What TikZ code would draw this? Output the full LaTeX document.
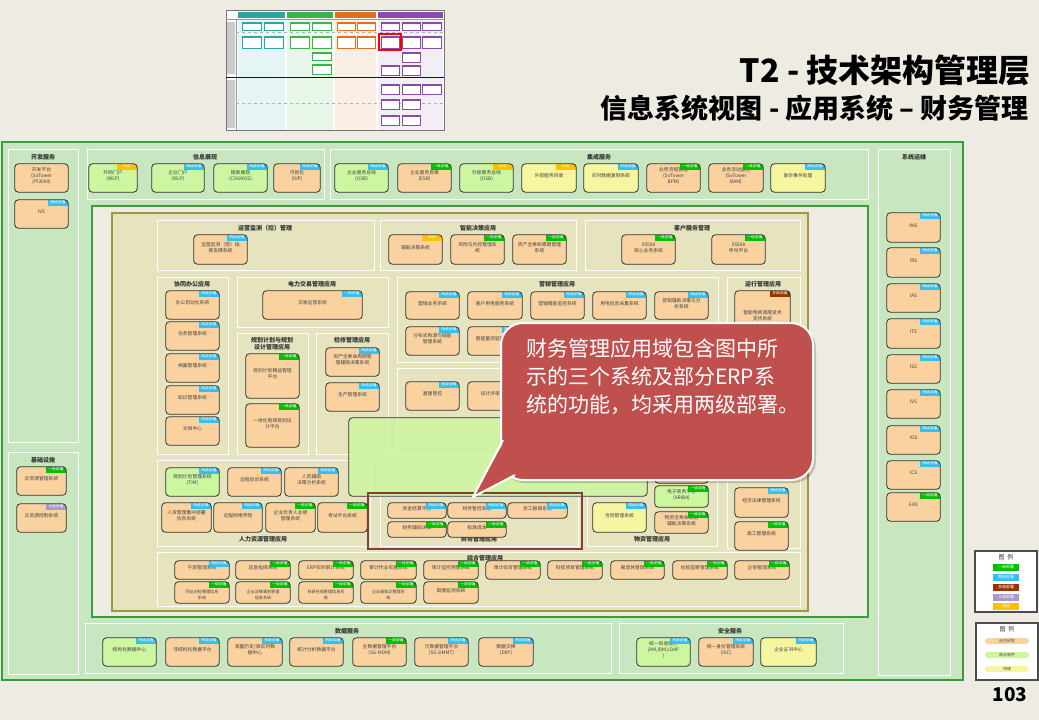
\documentclass[tikz,border=0pt]{standalone}
\usepackage{fontspec}
\setmainfont{Noto Sans CJK SC}
\usetikzlibrary{fit}
\definecolor{bg}{HTML}{EEECE2}
\definecolor{lgreen}{HTML}{C8E6BF}
\definecolor{fgreen}{HTML}{3C9B3C}
\definecolor{olivef}{HTML}{E6E4BF}
\definecolor{olived}{HTML}{9B9840}
\definecolor{bor}{HTML}{F9D2A0}
\definecolor{bgr}{HTML}{CCF6A0}
\definecolor{bye}{HTML}{F6F6A0}
\definecolor{tgr}{HTML}{00C000}
\definecolor{tcy}{HTML}{33C0F0}
\definecolor{tbr}{HTML}{993300}
\definecolor{tpu}{HTML}{A898CC}
\definecolor{tye}{HTML}{FFC000}
\definecolor{callred}{HTML}{C0504D}
\definecolor{frred}{HTML}{8B3A3A}
\definecolor{thteal}{HTML}{2BA6A0}
\definecolor{thgreen}{HTML}{3CB44B}
\definecolor{thorange}{HTML}{E07020}
\definecolor{thpurple}{HTML}{8A4AA8}

\newcommand\sysb[9]{%
  \node[sysbox, fill=#6, fit={(#2,#3) (#4,#5)}] (#1) {#9};
  \if\relax\detokenize{#7}\relax\else
  \begin{scope}
    \clip[rounded corners=3.5] (#1.south west) rectangle (#1.north east);
    \node[tagn, fill=#7] (#1t) at ([xshift=0.5pt,yshift=0.5pt]#1.north east) {#8};
  \end{scope}
  \fi
  \draw[boxline] (#1.south west) rectangle (#1.north east);
}
\newcommand\pnl[4]{\draw[panel] (#1,#2) rectangle (#3,#4);}
\newcommand\thb[5]{\draw[#5, line width=0.4, fill=white] (#1,#2) rectangle (#3,#4); \fill[#5] (#1,#2) rectangle (#3,#2+2);}
\newcommand\sm[1]{{\fontsize{4.1}{4.9}\selectfont #1}}

\begin{document}
\begin{tikzpicture}[x=1pt,y=-1pt,
  sysbox/.style={draw=none, rounded corners=3.5, inner sep=0pt, align=center,
     font=\fontsize{4.8}{6}\selectfont, text=black!75},
  boxline/.style={draw=black!80, line width=0.8pt, rounded corners=3.5},
  tagn/.style={anchor=north east, inner sep=0pt, minimum width=21pt, minimum height=6pt,
     font=\fontsize{3.8}{4}\selectfont, text=white},
  panel/.style={draw=white, line width=0.9pt},
  ptitle/.style={font=\fontsize{6}{7}\selectfont\bfseries, text=black!80, align=center},
  legtag/.style={inner sep=0pt, minimum width=26pt, minimum height=7pt,
     font=\fontsize{4}{5}\selectfont, text=white},
  legpill/.style={inner sep=0pt, minimum width=44pt, minimum height=6pt, rounded corners=3,
     font=\fontsize{4}{5}\selectfont, text=black!70}]
\useasboundingbox (0,0) rectangle (1039,720);
\fill[bg] (0,0) rectangle (1039,720);

% ---------------- thumbnail ----------------
\draw[black!55, fill=white, line width=0.6] (226,10) rectangle (444,130);
\fill[thteal!12] (238,19) rectangle (285,130);
\fill[thgreen!12] (287,19) rectangle (333,130);
\fill[thorange!12] (335,19) rectangle (376,130);
\fill[thpurple!10] (378,19) rectangle (443,130);
\fill[thteal] (238,12) rectangle (285,18);
\fill[thgreen] (287,12) rectangle (333,18);
\fill[thorange] (335,12) rectangle (376,18);
\fill[thpurple] (378,12) rectangle (443,18);
\draw[black!40, line width=0.4] (236,19) -- (236,130) (226,19) -- (444,19);
\draw[blue!60!black, line width=0.8] (226,77) -- (444,77);
\draw[black!30, dashed, line width=0.3] (236,32) -- (444,32) (236,103) -- (444,103);
\fill[black!20] (227,22) rectangle (235,74) (227,80) rectangle (235,128);
\thb{242}{22}{261}{30}{thteal}
\thb{264}{22}{283}{30}{thteal}
\thb{242}{36}{261}{48}{thteal}
\thb{264}{36}{283}{48}{thteal}
\thb{290}{22}{309}{30}{thgreen}
\thb{312}{22}{331}{30}{thgreen}
\thb{290}{36}{309}{48}{thgreen}
\thb{312}{36}{331}{48}{thgreen}
\thb{312}{52}{331}{60}{thgreen}
\thb{312}{64}{331}{74}{thgreen}
\thb{337}{22}{355}{30}{thorange}
\thb{357}{22}{375}{30}{thorange}
\thb{337}{36}{355}{48}{thorange}
\thb{357}{36}{375}{48}{thorange}
\thb{381}{22}{399}{30}{thpurple}
\thb{402}{22}{420}{30}{thpurple}
\thb{422}{22}{441}{30}{thpurple}
\thb{381}{36}{399}{48}{thpurple}
\thb{402}{36}{420}{48}{thpurple}
\thb{422}{36}{441}{48}{thpurple}
\thb{402}{52}{420}{62}{thpurple}
\thb{381}{65}{399}{75}{thpurple}
\thb{402}{65}{420}{75}{thpurple}
\thb{381}{84}{399}{94}{thpurple}
\thb{402}{84}{420}{94}{thpurple}
\thb{422}{84}{441}{94}{thpurple}
\thb{381}{99}{399}{109}{thpurple}
\thb{402}{99}{420}{109}{thpurple}
\thb{381}{115}{399}{125}{thpurple}
\thb{402}{115}{420}{125}{thpurple}
\draw[red, line width=1.6] (379,34) rectangle (401,50);

% ---------------- titles ----------------
\node[anchor=east, inner sep=0, font=\fontsize{32}{35}\selectfont\bfseries] (title) at (1031,70) {T2 - 技术架构管理层};
\node[anchor=east, inner sep=0, font=\fontsize{27}{30}\selectfont\bfseries] (subtitle) at (1029,108) {信息系统视图 - 应用系统 – 财务管理};
\node[inner sep=0, font=\fontsize{19}{22}\selectfont\bfseries] (pageno) at (1010,695) {103};

% ---------------- frames ----------------
\draw[fgreen, fill=lgreen, line width=1.2] (2,142) rectangle (963,680);
\pnl{8}{149}{78}{442}
\pnl{8}{452}{78}{674}
\pnl{87}{149}{324}{199}
\pnl{330}{149}{868}{199}
\pnl{878}{149}{950}{675}
\pnl{85}{623}{611}{673}
\pnl{619}{623}{843}{673}
\node[ptitle] (tdev) at (43,157) {开发服务};
\node[ptitle] (tinf) at (43,460) {基础设施};
\node[ptitle] (tinfo) at (205,157) {信息展现};
\node[ptitle] (tint) at (599,157) {集成服务};
\node[ptitle] (tops) at (914,157) {系统运维};
\node[ptitle] (tdata) at (347,631) {数据服务};
\node[ptitle] (tsec) at (730,631) {安全服务};

\draw[fgreen, fill=bg, line width=1.2] (92,206) rectangle (868,617);
\draw[olived, fill=olivef, line width=1.2] (112,213) rectangle (808,611);

\pnl{157}{220}{374}{270}
\pnl{380}{220}{576}{270}
\pnl{585}{220}{800}{270}
\pnl{157}{277}{228}{454}
\pnl{237}{277}{388}{327}
\pnl{237}{333}{308}{454}
\pnl{316}{333}{388}{454}
\pnl{397}{277}{718}{362}
\pnl{727}{277}{800}{455}
\pnl{397}{368}{718}{455}
\pnl{157}{460}{370}{546}
\pnl{587}{462}{717}{546}
\pnl{727}{462}{800}{548}
\pnl{380}{496}{578}{546}
\pnl{157}{552}{800}{606}
\node[ptitle] (t1) at (265,228) {运营监测（控）管理};
\node[ptitle] (t2) at (478,228) {智能决策应用};
\node[ptitle] (t3) at (692,228) {客户服务管理};
\node[ptitle] (t4) at (192,284) {协同办公应用};
\node[ptitle] (t5) at (312,284) {电力交易管理应用};
\node[ptitle] (t6) at (272,344) {规划计划与规划\\设计管理应用};
\node[ptitle] (t7) at (352,340) {检修管理应用};
\node[ptitle] (t8) at (557,284) {营销管理应用};
\node[ptitle] (t9) at (763,284) {运行管理应用};
\node[ptitle] (t10) at (263,539) {人力资源管理应用};
\node[ptitle] (t11) at (652,539) {物资管理应用};
\node[ptitle] (t12) at (479,539) {财务管理应用};
\node[ptitle] (t13) at (485,558) {综合管理应用};

% ---------------- boxes: top / side ----------------
\sysb{dv1}{15}{164}{68}{192}{bor}{}{}{开发平台\\(SoTower\\/PI3000)}
\sysb{dv2}{15}{200}{68}{228}{bor}{tcy}{两级部署}{IVS}
\sysb{in1}{17}{467}{66}{495}{bor}{tgr}{一级部署}{云资源管理系统}
\sysb{in2}{17}{504}{66}{532}{bor}{tpu}{三级部署}{云资源控制系统}

\sysb{ip1}{89}{164}{137}{192}{bgr}{tye}{待定}{外网门户\\(WLP)}
\sysb{ip2}{152}{164}{204}{192}{bgr}{tcy}{两级部署}{企业门户\\(WLP)}
\sysb{ip3}{214}{164}{267}{192}{bgr}{tcy}{两级部署}{报表展现\\(COGNOS)}
\sysb{ip4}{274}{164}{320}{192}{bor}{tcy}{两级部署}{可视化\\(IVP)}

\sysb{is1}{335}{164}{388}{192}{bgr}{tcy}{两级部署}{企业服务总线\\(OSB)}
\sysb{is2}{398}{164}{451}{192}{bor}{tgr}{一级部署}{企业服务目录\\(ESR)}
\sysb{is3}{460}{164}{513}{192}{bgr}{tye}{待定}{外部服务总线\\(OSB)}
\sysb{is4}{522}{164}{576}{192}{bye}{tye}{待定}{外部服务目录}
\sysb{is5}{584}{164}{638}{192}{bye}{tcy}{两级部署}{实时数据复制系统}
\sysb{is6}{647}{164}{700}{192}{bor}{tgr}{一级部署}{业务流程管理\\(SoTower\\BPM)}
\sysb{is7}{709}{164}{763}{192}{bor}{tgr}{一级部署}{业务活动监控\\(SoTower\\BAM)}
\sysb{is8}{771}{164}{825}{192}{bye}{tcy}{两级部署}{复杂事件处理}

\sysb{op1}{887}{213}{940}{242}{bor}{tcy}{两级部署}{IMS}
\sysb{op2}{887}{248}{940}{277}{bor}{tcy}{两级部署}{IRS}
\sysb{op3}{887}{284}{940}{312}{bor}{tcy}{两级部署}{IAS}
\sysb{op4}{887}{319}{940}{348}{bor}{tcy}{两级部署}{ITS}
\sysb{op5}{887}{355}{940}{383}{bor}{tcy}{两级部署}{ISS}
\sysb{op6}{887}{390}{940}{418}{bor}{tcy}{两级部署}{IVS}
\sysb{op7}{887}{426}{940}{454}{bor}{tcy}{两级部署}{IOS}
\sysb{op8}{887}{461}{940}{489}{bor}{tcy}{两级部署}{ICS}
\sysb{op9}{887}{493}{940}{521}{bor}{tgr}{一级部署}{EAS}

\sysb{ds1}{103}{638}{156}{666}{bgr}{tcy}{两级部署}{结构化数据中心}
\sysb{ds2}{166}{638}{219}{666}{bor}{tcy}{两级部署}{非结构化数据平台}
\sysb{ds3}{228}{638}{282}{666}{bor}{tcy}{两级部署}{海量历史/准实时数\\据中心}
\sysb{ds4}{290}{638}{343}{666}{bor}{tcy}{两级部署}{统计分析数据平台}
\sysb{ds5}{353}{638}{406}{666}{bor}{tgr}{一级部署}{主数据管理平台\\(SG-MDM)}
\sysb{ds6}{415}{638}{468}{666}{bor}{tcy}{两级部署}{元数据管理平台\\(SG-DMMT)}
\sysb{ds7}{479}{638}{533}{666}{bor}{tcy}{两级部署}{数据交换\\(DXP)}
\sysb{sc1}{637}{638}{690}{666}{bgr}{tcy}{两级部署}{统一目录服务\\(AM,IDM,LDAP\\)}
\sysb{sc2}{699}{638}{753}{666}{bor}{tcy}{两级部署}{统一身份管理系统\\(ISC)}
\sysb{sc3}{761}{638}{816}{666}{bye}{tcy}{两级部署}{企业证书中心}

% ---------------- application boxes ----------------
\sysb{a1}{194}{235}{247}{264}{bor}{tcy}{两级部署}{运营监测（控）指\\挥支撑系统}
\sysb{a2}{389}{235}{442}{264}{bor}{tye}{待定}{辅助决策系统}
\sysb{a3}{451}{235}{504}{264}{bor}{tgr}{一级部署}{风险与内控管理系\\统}
\sysb{a4}{513}{235}{566}{264}{bor}{tgr}{一级部署}{资产全寿命周期管理\\系统}
\sysb{a5}{622}{235}{675}{264}{bor}{tgr}{一级部署}{95598\\核心业务系统}
\sysb{a6}{712}{235}{765}{264}{bor}{tgr}{一级部署}{95598\\呼叫平台}

\sysb{b1}{166}{291}{219}{319}{bor}{tcy}{两级部署}{办公自动化系统}
\sysb{b2}{166}{322}{219}{350}{bor}{tcy}{两级部署}{任务管理系统}
\sysb{b3}{166}{354}{219}{382}{bor}{tcy}{两级部署}{档案管理系统}
\sysb{b4}{166}{386}{219}{414}{bor}{tcy}{两级部署}{知识管理系统}
\sysb{b5}{166}{417}{219}{445}{bor}{tcy}{两级部署}{文档中心}
\sysb{c1}{263}{291}{362}{319}{bor}{tcy}{一级部署}{交易运营系统}
\sysb{c2}{246}{354}{299}{398}{bor}{tgr}{一级部署}{规划计划精益管理\\平台}
\sysb{c3}{246}{404}{299}{447}{bor}{tgr}{一级部署}{一体化电网规划设\\计平台}
\sysb{c4}{326}{348}{379}{376}{bor}{tcy}{两级部署}{资产全寿命周期管\\理辅助决策系统}
\sysb{c5}{326}{383}{379}{411}{bor}{tcy}{两级部署}{生产管理系统}

\sysb{m1}{406}{292}{459}{319}{bor}{tcy}{两级部署}{营销业务系统}
\sysb{m2}{468}{292}{522}{319}{bor}{tcy}{两级部署}{客户用电服务系统}
\sysb{m3}{531}{292}{584}{319}{bor}{tcy}{两级部署}{营销稽查监控系统}
\sysb{m4}{593}{292}{646}{319}{bor}{tcy}{两级部署}{用电信息采集系统}
\sysb{m5}{655}{292}{708}{319}{bor}{tcy}{两级部署}{营销辅助决策与分\\析系统}
\sysb{m6}{406}{327}{459}{355}{bor}{tcy}{两级部署}{分布式电源与储能\\管理系统}
\sysb{m7}{468}{327}{522}{355}{bor}{tcy}{两级部署}{智能量测监控系统}
\sysb{r1}{735}{291}{790}{345}{bor}{tbr}{多级部署}{智能电网调度技术\\支持系统}
\sysb{k1}{406}{382}{459}{410}{bor}{tcy}{两级部署}{基建管控}
\sysb{k2}{468}{382}{522}{410}{bor}{tcy}{两级部署}{设计评审系统}

\sysb{h1}{166}{468}{219}{496}{bgr}{tcy}{两级部署}{规划计划管理系统\\(TIM)}
\sysb{h2}{228}{468}{281}{496}{bor}{tcy}{两级部署}{远程培训系统}
\sysb{h3}{285}{468}{338}{496}{bor}{tcy}{两级部署}{人资辅助\\决策分析系统}
\sysb{h4}{162}{503}{211}{532}{bor}{tcy}{两级部署}{人资管理集中部署\\信息系统}
\sysb{h5}{214}{503}{262}{532}{bor}{tcy}{两级部署}{远程网络学院}
\sysb{h6}{266}{503}{315}{532}{bor}{tgr}{一级部署}{企业负责人业绩\\管理系统}
\sysb{h7}{318}{503}{367}{532}{bor}{tgr}{一级部署}{考试平台系统}

\sysb{w0}{655}{455}{708}{483}{bor}{}{}{}
\sysb{w1}{593}{503}{646}{532}{bye}{tcy}{两级部署}{合同管理系统}
\sysb{w2}{655}{486}{708}{507}{bgr}{tgr}{一级部署}{电子商务平台\\(ARIBA)}
\sysb{w3}{655}{512}{708}{533}{bor}{tgr}{一级部署}{物资全寿命周期\\辅助决策系统}
\sysb{x1}{735}{488}{788}{517}{bor}{tcy}{两级部署}{经济法律管理系统}
\sysb{x2}{735}{522}{788}{550}{bor}{tgr}{一级部署}{政工管理系统}

\sysb{f1}{388}{503}{446}{518}{bor}{tcy}{两级部署}{资金结算平台}
\sysb{f2}{448}{503}{506}{518}{bor}{tcy}{两级部署}{财务管控系统}
\sysb{f3}{508}{503}{567}{518}{bor}{tcy}{两级部署}{员工报销系统}
\sysb{f4}{388}{522}{446}{537}{bor}{tgr}{一级部署}{财务辅助决策}
\sysb{f5}{448}{522}{506}{537}{bor}{tgr}{一级部署}{标准成本}

\sysb{z1}{175}{561}{229}{579}{bor}{tcy}{两级部署}{干部管理系统}
\sysb{z2}{236}{561}{290}{579}{bor}{tgr}{一级部署}{应急指挥系统}
\sysb{z3}{299}{561}{353}{579}{bor}{tgr}{一级部署}{ERP实时审计系统}
\sysb{z4}{361}{561}{416}{579}{bor}{tgr}{一级部署}{审计作业实施系统}
\sysb{z5}{424}{561}{478}{579}{bor}{tgr}{一级部署}{审计监控预警系统}
\sysb{z6}{486}{561}{540}{579}{bor}{tgr}{一级部署}{审计综合管理系统}
\sysb{z7}{548}{561}{602}{579}{bor}{tgr}{一级部署}{科技项目管理系统}
\sysb{z8}{611}{561}{664}{579}{bor}{tgr}{一级部署}{离退休管理系统}
\sysb{z9}{673}{561}{727}{579}{bor}{tgr}{一级部署}{纪检监察管理系统}
\sysb{z10}{735}{561}{789}{579}{bor}{tgr}{一级部署}{企协管理系统}
\sysb{y1}{175}{582}{229}{603}{bor}{tgr}{一级部署}{\\[1.5pt]\sm{同业对标管理信息}\\\sm{系统}}
\sysb{y2}{236}{582}{290}{603}{bor}{tgr}{一级部署}{\\[1.5pt]\sm{企业法律事务管理}\\\sm{信息系统}}
\sysb{y3}{299}{582}{353}{603}{bor}{tgr}{一级部署}{\\[1.5pt]\sm{科研在线管理信息系}\\\sm{统}}
\sysb{y4}{361}{582}{416}{603}{bor}{tgr}{一级部署}{\\[1.5pt]\sm{企业级知识管理系}\\\sm{统}}
\sysb{y5}{424}{582}{478}{603}{bor}{tgr}{一级部署}{舆情监测系统}

% ERP area box (semi transparent, panel lines show through)
\node[sysbox, fill=bgr, fill opacity=0.82, fit={(349,418) (647,496)}] (erp) {};
\draw[boxline] (erp.south west) rectangle (erp.north east);

% finance highlight frame
\draw[frred, line width=2.5] (368,493) rectangle (582,549);

% ---------------- legends ----------------
\draw[black!70, fill=white, line width=1.2] (975,551) rectangle (1037,612);
\node[font=\fontsize{6}{7}\selectfont, text=black!80] (lg1) at (1006,557) {图\ \ 例};
\node[legtag, fill=tgr] (lt1) at (1006,567) {一级部署};
\node[legtag, fill=tcy] (lt2) at (1006,577) {两级部署};
\node[legtag, fill=tbr] (lt3) at (1006,587) {多级部署};
\node[legtag, fill=tpu] (lt4) at (1006,597) {三级部署};
\node[legtag, fill=tye] (lt5) at (1006,606) {待定};
\draw[black!70, fill=white, line width=1.2] (976,623) rectangle (1038,680);
\node[font=\fontsize{6}{7}\selectfont, text=black!80] (lg2) at (1007,629) {图\ \ 例};
\node[legpill, fill=bor] (lp1) at (1007,641) {自主研发};
\node[legpill, fill=bgr] (lp2) at (1007,655) {商业软件};
\node[legpill, fill=bye] (lp3) at (1007,669) {待建};

% ---------------- callout ----------------
\fill[black, opacity=0.18, rounded corners=22] (503,326) rectangle (816,483);
\node[draw=white, line width=2, fill=callred, rounded corners=22, minimum width=312, minimum height=157, anchor=north west, inner sep=0] (callout) at (500,322) {};
\coordinate (ptip) at (473,497);
\fill[callred] (506,438) -- (ptip) -- (517,473) -- (525,460) -- cycle;
\draw[white, line width=2, line join=round] (503,440) -- (ptip) -- (515,475);
\node[anchor=north west, inner sep=0, align=left, text=white, font=\fontsize{21}{28}\selectfont] (calltext) at (526,338) {财务管理应用域包含图中所\\示的三个系统及部分ERP系\\统的功能，均采用两级部署。};
\end{tikzpicture}
\end{document}
